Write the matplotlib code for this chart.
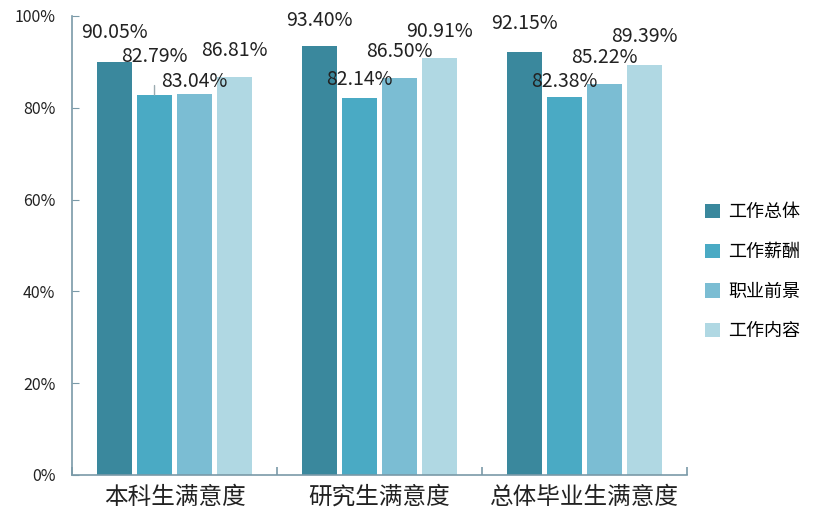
import matplotlib
matplotlib.use("Agg")
import matplotlib.pyplot as plt
import numpy as np
from matplotlib.patches import Patch

plt.rcParams["font.family"] = ["Noto Sans CJK SC", "DejaVu Sans"]

categories = ["本科生满意度", "研究生满意度", "总体毕业生满意度"]
series = ["工作总体", "工作薪酬", "职业前景", "工作内容"]
work_overall = [90.05, 93.40, 92.15]
work_pay = [82.79, 82.14, 82.38]
career = [83.04, 86.50, 85.22]
work_content = [86.81, 90.91, 89.39]
values = [work_overall, work_pay, career, work_content]

colors = ["#3a889d", "#4aaac4", "#7bbdd3", "#b0d8e3"]
axis_color = "#7a9aa8"
# vertical label offset above each bar top, in pixels, per series then group
label_dy_px = [[29, 26, 29], [38, 18, 15], [12, 26, 26], [26, 26, 28]]

fig = plt.figure(figsize=(8.24, 5.19), dpi=100)
ax = fig.add_axes([0.0874, 0.0848, 0.7463, 0.8844])

x = np.arange(len(categories))
step, width = 0.195, 0.17
for i, (name, vals) in enumerate(zip(series, values)):
    xs = x + (i - 1.5) * step
    ax.bar(xs, vals, width, color=colors[i], label=name)
    for xi, v, dy in zip(xs, vals, label_dy_px[i]):
        kw = {}
        if dy > 32:
            kw["arrowprops"] = dict(arrowstyle="-", color="#9aaab0", lw=1,
                                    shrinkA=11, shrinkB=0)
        ax.annotate(f"{v:.2f}%", xy=(xi, v), xytext=(0, dy * 0.72),
                    textcoords="offset points", ha="center", va="center",
                    fontsize=14, color="#222222", **kw)

ax.set_xlim(-0.5, len(categories) - 0.5)
ax.set_ylim(0, 100)
ax.set_yticks(np.arange(0, 101, 20))
ax.set_yticklabels([f"{t}%" for t in range(0, 101, 20)])
ax.set_xticks(x)
ax.set_xticklabels(categories)
ax.set_xticks(np.arange(-0.5, len(categories)), minor=True)

for s in ["top", "right"]:
    ax.spines[s].set_visible(False)
for s in ["left", "bottom"]:
    ax.spines[s].set_color(axis_color)
    ax.spines[s].set_linewidth(1.2)

ax.tick_params(axis="y", direction="in", length=5, color=axis_color,
               labelsize=11.5, pad=12, labelcolor="#222222")
ax.tick_params(axis="x", which="major", length=0, labelsize=17, pad=8,
               labelcolor="#222222")
ax.tick_params(axis="x", which="minor", direction="in", length=6,
               color=axis_color, width=1.2)

handles = [Patch(facecolor=c) for c in colors]
fig.legend(handles, series, loc="center left", bbox_to_anchor=(0.836, 0.476),
           frameon=False, fontsize=13, handlelength=0.85, handleheight=0.85,
           handletextpad=0.45, labelspacing=1.2)

fig.savefig("out.png", dpi=100)
